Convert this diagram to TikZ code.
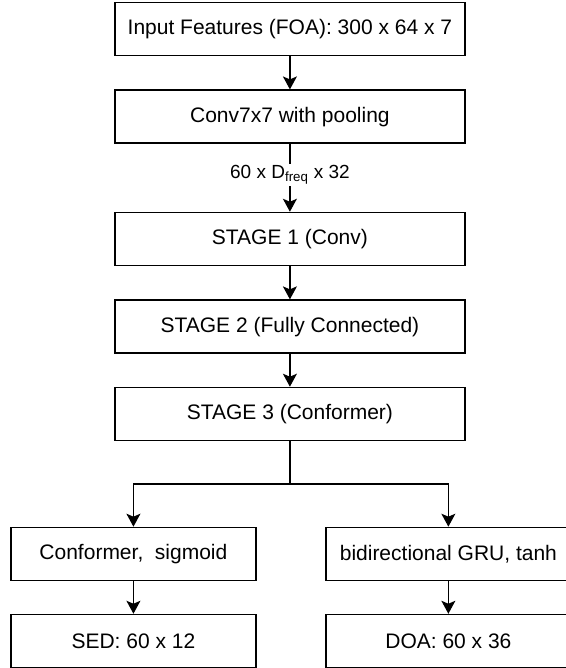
\documentclass[tikz,border=0pt]{standalone}
\usepackage{fontspec}
\setmainfont{Liberation Sans}
\usetikzlibrary{arrows.meta}

\tikzset{
  block/.style={draw, line width=1.5pt, minimum width=12.30cm, minimum height=1.86cm,
    inner sep=0pt, font=\fontsize{21}{24}\selectfont},
  head/.style={block, minimum width=8.61cm},
  flow/.style={line width=1.3pt, -{Stealth[length=13pt, width=14pt, inset=3pt]}},
  shape lbl/.style={fill=white, inner sep=1pt, font=\fontsize{19}{22}\selectfont}
}

\begin{document}
\begin{tikzpicture}[scale=1.0]
    \useasboundingbox (0,0) rectangle (19.89,23.48);
    % Main chain
    \node[block] (input) at (10.19,22.46) {Input Features (FOA): 300 x 64 x 7};
    \node[block] (conv) at (10.19,19.38) {Conv7x7 with pooling};
    \node[block] (stageone) at (10.19,15.08) {STAGE 1 (Conv)};
    \node[block] (stagetwo) at (10.19,12.00) {STAGE 2 (Fully Connected)};
    \node[block] (stagethree) at (10.19,8.93) {STAGE 3 (Conformer)};
    % Output heads
    \node[head] (sedhead) at (4.69,4.01) {Conformer,\ \ sigmoid};
    \node[head] (doahead) at (15.76,4.01) {bidirectional GRU, tanh};
    \node[head] (sedout) at (4.69,0.95) {SED: 60 x 12};
    \node[head] (doaout) at (15.76,0.95) {DOA: 60 x 36};
    \coordinate (split) at (10.19,6.47);
    % Arrows
    \draw[flow] (input) -- (conv);
    \draw[flow] (conv) -- node[shape lbl, yshift=3pt] {60 x D\textsubscript{freq} x 32} (stageone);
    \draw[flow] (stageone) -- (stagetwo);
    \draw[flow] (stagetwo) -- (stagethree);
    \draw[flow] (stagethree.south) -- (split) -| (sedhead);
    \draw[flow] (split) -| (doahead);
    \draw[flow] (sedhead) -- (sedout);
    \draw[flow] (doahead) -- (doaout);
  \end{tikzpicture}
\end{document}
